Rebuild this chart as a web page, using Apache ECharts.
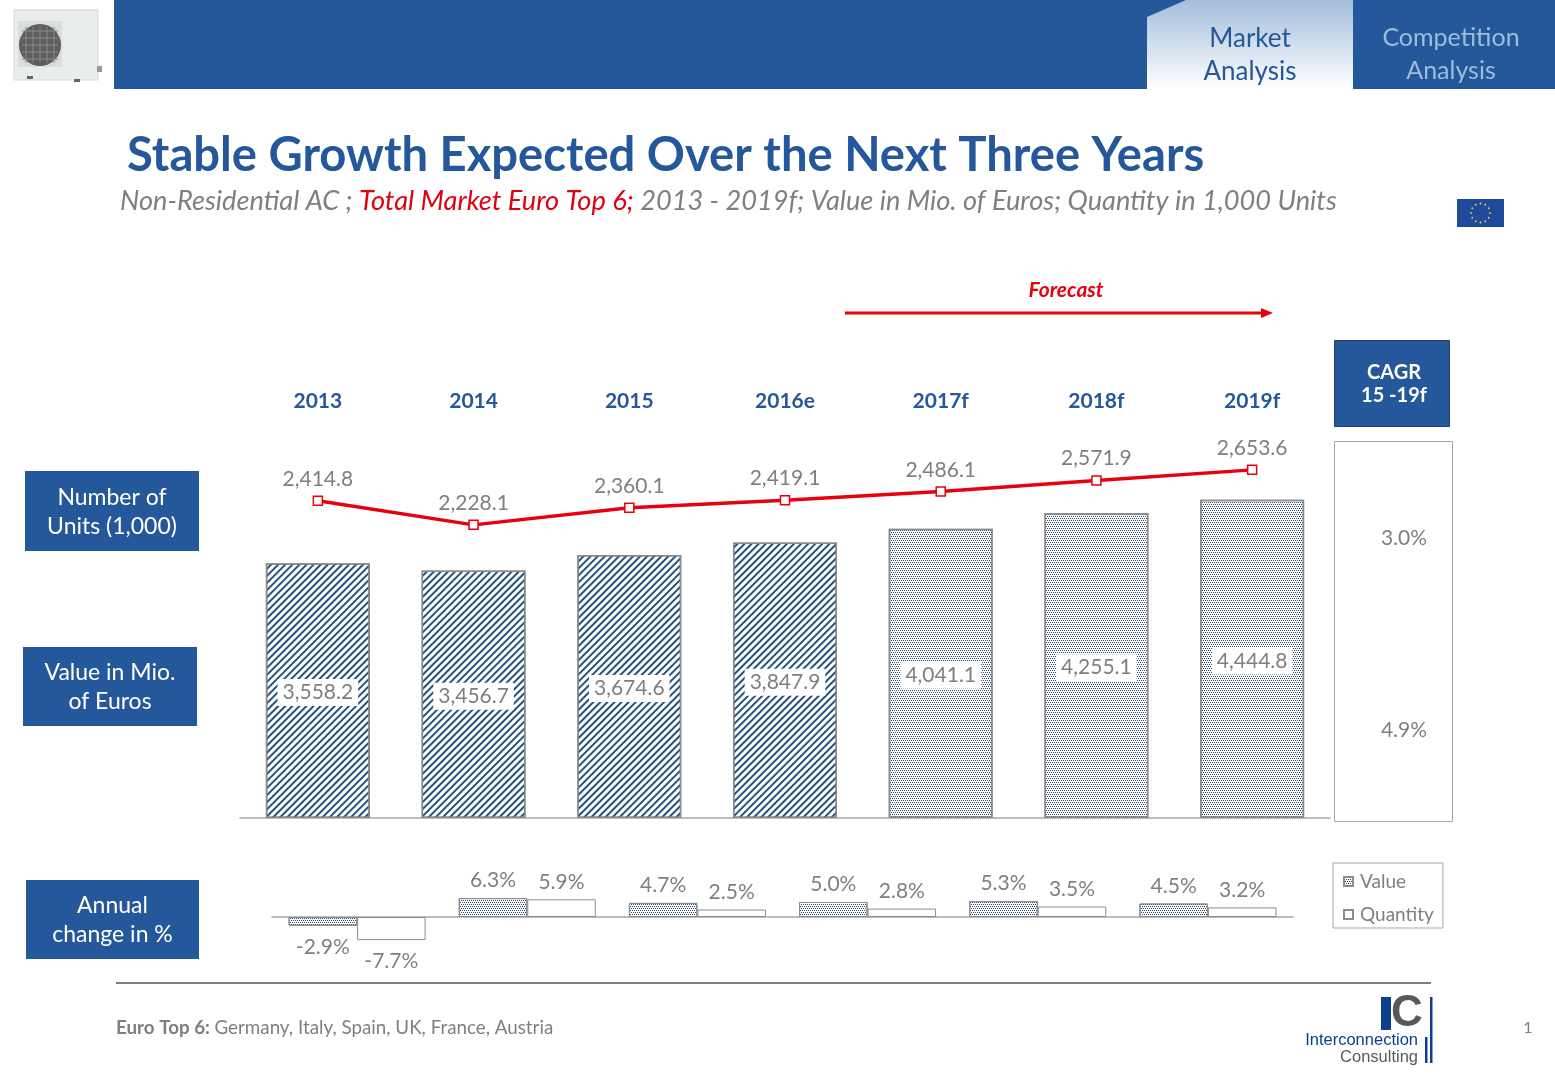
<!DOCTYPE html>
<html>
<head>
<meta charset="utf-8">
<title>Stable Growth Expected Over the Next Three Years</title>
<script src="https://cdn.jsdelivr.net/npm/echarts@6/dist/echarts.min.js"></script>
<style>
html, body { margin: 0; padding: 0; background: #fff; }
#chart { width: 1555px; height: 1077px; }
</style>
</head>
<body>
<div id="chart"></div>
<script>
const years = ['2013', '2014', '2015', '2016e', '2017f', '2018f', '2019f']
const valueMio = [3558.2, 3456.7, 3674.6, 3847.9, 4041.1, 4255.1, 4444.8]
const unitsK = [2414.8, 2228.1, 2360.1, 2419.1, 2486.1, 2571.9, 2653.6]
const changeYears = ['2014', '2015', '2016e', '2017f', '2018f', '2019f']
const changeValue = [-2.9, 6.3, 4.7, 5.0, 5.3, 4.5]
const changeQuantity = [-7.7, 5.9, 2.5, 2.8, 3.5, 3.2]
const cagrUnits = '3.0%'
const cagrValue = '4.9%'

const BLUE = '#25579b'
const GREY = '#7f7f7f'
const RED = '#e8000f'
const FONT = 'Lato'

const hatch = { color: '#24527f', symbol: 'rect', dashArrayX: [1, 0], dashArrayY: [2, 3], rotation: -Math.PI / 4 }
const dots = { color: '#2b4a6b', symbol: 'rect', symbolSize: 1, dashArrayX: [[1, 1], [0, 1, 1, 0]], dashArrayY: [1, 1] }

const fmt = v => v.toLocaleString('en-US', { minimumFractionDigits: 1, maximumFractionDigits: 1 })

function changeData(list) {
    return list.map(v => ({
        value: v,
        label: { position: v < 0 ? 'bottom' : 'top', distance: v < 0 ? 11 : 7 }
    }))
}

// boxes on the left side
function sideBox(x, y, w, h, text) {
    return [
        { type: 'rect', shape: { x, y, width: w, height: h }, style: { fill: BLUE } },
        { type: 'text', x: x + w / 2, y: y + h / 2 + 1, style: { text, fill: '#fff', font: '23px ' + FONT, lineHeight: 29, align: 'center', verticalAlign: 'middle' } }
    ]
}

function euStars() {
    const out = []
    for (let i = 0; i < 12; i++) {
        const a = i / 12 * Math.PI * 2
        out.push({ type: 'circle', shape: { cx: 1480.5 + Math.cos(a) * 9.5, cy: 213 + Math.sin(a) * 9.5, r: 0.9 }, style: { fill: '#e8d44a' } })
    }
    return out
}

function acUnit() {
    const out = [
        { type: 'rect', shape: { x: 14, y: 10, width: 84, height: 70 }, style: { fill: '#e9eded', stroke: '#d3d7d7' } },
        { type: 'rect', shape: { x: 18, y: 21, width: 44, height: 46 }, style: { fill: '#d9dddd' } },
        { type: 'circle', shape: { cx: 40, cy: 45, r: 21 }, style: { fill: '#5e5e60' } },
        { type: 'rect', shape: { x: 27, y: 76, width: 6, height: 3 }, style: { fill: '#666' } },
        { type: 'rect', shape: { x: 74, y: 79, width: 6, height: 3 }, style: { fill: '#666' } },
        { type: 'rect', shape: { x: 97, y: 66, width: 5, height: 6 }, style: { fill: '#999' } }
    ]
    for (let i = 1; i < 6; i++) {
        out.push({ type: 'line', shape: { x1: 22, y1: 24 + i * 7, x2: 58, y2: 24 + i * 7 }, style: { stroke: '#8a8a8a', lineWidth: 1 } })
        out.push({ type: 'line', shape: { x1: 19 + i * 7, y1: 27, x2: 19 + i * 7, y2: 63 }, style: { stroke: '#8a8a8a', lineWidth: 1 } })
    }
    return out
}

const decorations = [
    // header
    { type: 'rect', shape: { x: 114, y: 0, width: 1441, height: 89 }, style: { fill: BLUE } },
    {
        type: 'polygon',
        shape: { points: [[1147, 17], [1186, 0], [1353, 0], [1353, 89], [1147, 89]] },
        style: { fill: new echarts.graphic.LinearGradient(0, 0, 0, 1, [{ offset: 0, color: '#a3bedb' }, { offset: 1, color: '#ffffff' }]) }
    },
    { type: 'text', x: 1250, y: 55, style: { text: 'Market\nAnalysis', fill: BLUE, font: '26px ' + FONT, lineHeight: 33, align: 'center', verticalAlign: 'middle' } },
    { type: 'text', x: 1451, y: 54, style: { text: 'Competition\nAnalysis', fill: '#a0bcdc', font: '25px ' + FONT, lineHeight: 33, align: 'center', verticalAlign: 'middle' } },
    ...acUnit(),

    // title block
    { type: 'text', x: 127, y: 156, style: { text: 'Stable Growth Expected Over the Next Three Years', fill: BLUE, font: 'bold 47.2px ' + FONT, verticalAlign: 'middle' } },
    {
        type: 'text', x: 120, y: 201,
        style: {
            text: '{g|Non-Residential AC ; }{r|Total Market Euro Top 6; }{g|2013 - 2019f; Value in Mio. of Euros; Quantity in 1,000 Units}',
            verticalAlign: 'middle',
            rich: {
                g: { fill: GREY, fontStyle: 'italic', fontFamily: FONT, fontSize: 27.2 },
                r: { fill: '#e00010', fontStyle: 'italic', fontFamily: FONT, fontSize: 27.2 }
            }
        }
    },
    { type: 'rect', shape: { x: 1457, y: 199, width: 47, height: 28 }, style: { fill: '#1f4a9c' } },
    ...euStars(),

    // forecast arrow
    { type: 'text', x: 1066, y: 290.5, style: { text: 'Forecast', fill: RED, font: 'italic bold 21px ' + FONT, align: 'center', verticalAlign: 'middle' } },
    { type: 'line', shape: { x1: 845, y1: 313, x2: 1263, y2: 313 }, style: { stroke: RED, lineWidth: 3 } },
    { type: 'polygon', shape: { points: [[1261, 308], [1273, 313], [1261, 318]] }, style: { fill: RED } },

    // left labels
    ...sideBox(25, 471, 174, 80, 'Number of\nUnits (1,000)'),
    ...sideBox(23, 647, 174, 79, 'Value in Mio.\nof Euros'),
    ...sideBox(26, 880, 173, 79, 'Annual\nchange in %'),

    // CAGR column
    { type: 'rect', shape: { x: 1334.5, y: 340.5, width: 115, height: 86 }, style: { fill: BLUE, stroke: '#1c3f6e' } },
    { type: 'text', x: 1394, y: 384, style: { text: 'CAGR\n15 -19f', fill: '#fff', font: 'bold 20px ' + FONT, lineHeight: 23, align: 'center', verticalAlign: 'middle' } },
    { type: 'rect', shape: { x: 1334.5, y: 441.5, width: 118, height: 380 }, style: { fill: '#fff', stroke: '#a6a6a6' } },
    { type: 'text', x: 1404, y: 538, style: { text: cagrUnits, fill: GREY, font: '21px ' + FONT, align: 'center', verticalAlign: 'middle' } },
    { type: 'text', x: 1404, y: 730, style: { text: cagrValue, fill: GREY, font: '21px ' + FONT, align: 'center', verticalAlign: 'middle' } },

    // footer
    { type: 'line', shape: { x1: 116, y1: 983, x2: 1431, y2: 983 }, style: { stroke: GREY, lineWidth: 2 } },
    {
        type: 'text', x: 116, y: 1028,
        style: {
            text: '{b|Euro Top 6: }{n|Germany, Italy, Spain, UK, France, Austria}',
            verticalAlign: 'middle',
            rich: {
                b: { fill: GREY, fontWeight: 'bold', fontFamily: FONT, fontSize: 18.8 },
                n: { fill: GREY, fontFamily: FONT, fontSize: 18.8 }
            }
        }
    },
    { type: 'text', x: 1528, y: 1028, style: { text: '1', fill: GREY, font: '16px ' + FONT, align: 'center', verticalAlign: 'middle' } },

    // logo
    { type: 'rect', shape: { x: 1381, y: 997, width: 10, height: 33 }, style: { fill: '#0d3f8c' } },
    { type: 'text', x: 1407, y: 1014, style: { text: 'C', fill: '#58595b', font: 'bold 44px "Liberation Sans"', align: 'center', verticalAlign: 'middle' } },
    { type: 'rect', shape: { x: 1430, y: 997, width: 2.5, height: 66 }, style: { fill: '#0d3f8c' } },
    { type: 'rect', shape: { x: 1425, y: 1037, width: 2.5, height: 26 }, style: { fill: '#0d3f8c' } },
    { type: 'text', x: 1418, y: 1040, style: { text: 'Interconnection', fill: '#0d3f8c', font: '16.5px "Liberation Sans"', align: 'right', verticalAlign: 'middle' } },
    { type: 'text', x: 1418, y: 1057, style: { text: 'Consulting', fill: '#58595b', font: '16.5px "Liberation Sans"', align: 'right', verticalAlign: 'middle' } }
]

const chart = echarts.init(document.getElementById('chart'), null, { renderer: 'canvas' })
chart.setOption({
    animation: false,
    backgroundColor: '#fff',
    graphic: { elements: decorations },
    legend: {
        data: ['Value', 'Quantity'],
        icon: 'rect',
        orient: 'vertical',
        left: 1333,
        top: 863,
        padding: [9, 9, 4, 10],
        itemGap: 14,
        itemWidth: 9,
        itemHeight: 9,
        borderColor: '#a6a6a6',
        borderWidth: 1,
        selectedMode: false,
        textStyle: { color: GREY, fontFamily: FONT, fontSize: 19, padding: [0, 0, 0, 2] }
    },
    grid: [
        { left: 240, top: 460, width: 1090, height: 358 },
        { left: 272, top: 887, width: 1021, height: 60 }
    ],
    xAxis: [
        {
            type: 'category', gridIndex: 0, data: years, position: 'bottom',
            axisLine: { lineStyle: { color: '#a6a6a6', width: 1.5 } },
            axisTick: { show: false }, axisLabel: { show: false }
        },
        {
            type: 'category', gridIndex: 0, data: years, position: 'top',
            axisLine: { show: false }, axisTick: { show: false },
            axisLabel: { color: BLUE, fontFamily: FONT, fontWeight: 'bold', fontSize: 21, margin: 48 }
        },
        {
            type: 'category', gridIndex: 1, data: changeYears,
            axisLine: { onZero: true, lineStyle: { color: '#a6a6a6', width: 1.5 } },
            axisTick: { show: false }, axisLabel: { show: false }
        }
    ],
    yAxis: [
        { type: 'value', gridIndex: 0, min: 0, max: 5000, show: false },
        { type: 'value', gridIndex: 0, min: -40, max: 2730, show: false },
        { type: 'value', gridIndex: 1, min: -10, max: 10, show: false }
    ],
    series: [
        {
            name: 'Value in Mio. of Euros',
            type: 'bar',
            xAxisIndex: 0,
            yAxisIndex: 0,
            barWidth: 104,
            itemStyle: { color: '#fff', borderColor: '#8c8c8c', borderWidth: 1.5 },
            label: {
                show: true, position: 'inside', offset: [0, 2], color: GREY, fontFamily: FONT, fontSize: 21,
                backgroundColor: '#fff', padding: [4, 5, 2, 5],
                formatter: p => fmt(p.value)
            },
            data: valueMio.map((v, i) => ({ value: v, itemStyle: { decal: i < 4 ? hatch : dots } }))
        },
        {
            name: 'Number of Units (1,000)',
            type: 'line',
            xAxisIndex: 1,
            yAxisIndex: 1,
            symbol: 'rect',
            symbolSize: 9,
            showAllSymbol: true,
            lineStyle: { color: RED, width: 3.5 },
            itemStyle: { color: '#fff', borderColor: RED, borderWidth: 1.5 },
            label: {
                show: true, position: 'top', distance: 6, color: GREY, fontFamily: FONT, fontSize: 21,
                formatter: p => fmt(p.value)
            },
            data: unitsK
        },
        {
            name: 'Value',
            type: 'bar',
            xAxisIndex: 2,
            yAxisIndex: 2,
            barWidth: 68.5,
            barGap: 0,
            itemStyle: { color: '#fff', borderColor: '#8c8c8c', borderWidth: 1, decal: dots },
            label: { show: true, color: GREY, fontFamily: FONT, fontSize: 21, formatter: p => p.value.toFixed(1) + '%' },
            data: changeData(changeValue)
        },
        {
            name: 'Quantity',
            type: 'bar',
            xAxisIndex: 2,
            yAxisIndex: 2,
            barWidth: 68.5,
            barGap: 0,
            itemStyle: { color: '#fff', borderColor: '#8c8c8c', borderWidth: 1 },
            label: { show: true, color: GREY, fontFamily: FONT, fontSize: 21, formatter: p => p.value.toFixed(1) + '%' },
            data: changeData(changeQuantity)
        }
    ]
})
</script>
</body>
</html>
